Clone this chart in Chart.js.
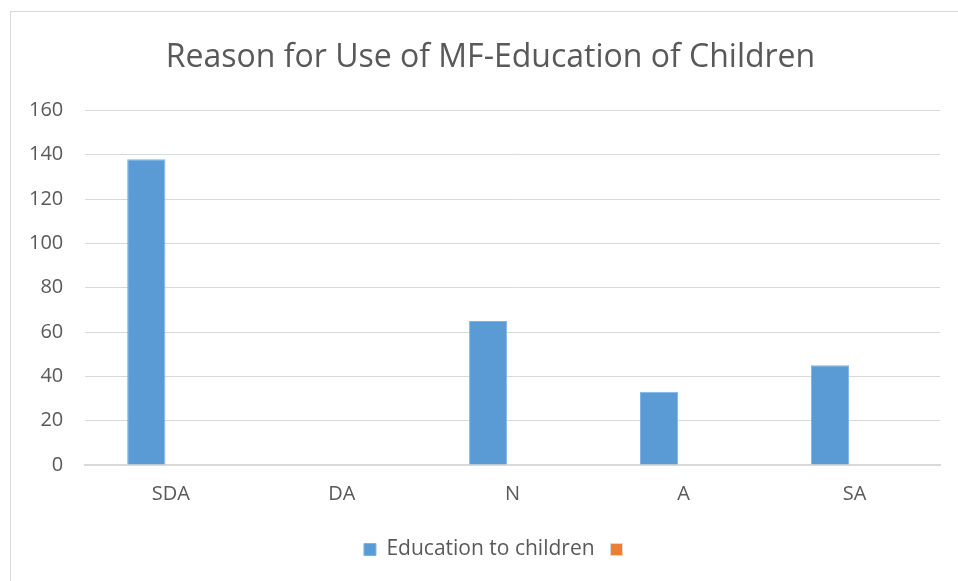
<!DOCTYPE html>
<html><head><meta charset="utf-8">
<script src="https://cdn.jsdelivr.net/npm/chart.js@4/dist/chart.umd.min.js"></script>
<style>
html,body{margin:0;padding:0;background:#fff;}
#frame{position:absolute;left:10px;top:11px;width:960px;height:580px;border:1px solid #d9d9d9;box-sizing:border-box;}
#wrap{position:absolute;left:0;top:0;width:958px;height:581px;}
</style></head>
<body>
<div id="frame"></div>
<div id="wrap"><canvas id="c" width="958" height="581"></canvas></div>
<script>
const categories = ["SDA","DA","N","A","SA"];
const educationValues = [138, 0, 65, 33, 45];
const secondValues = [0, 0, 0, 0, 0];
const yTicks = [0,20,40,60,80,100,120,140,160];
const titleText = "Reason for Use of MF-Education of Children";
const seriesNames = ["Education to children", ""];

const FONT = "'Open Sans', 'Liberation Sans', sans-serif";
const shiftPlugin = {
  id:'shift',
  afterLayout(chart){
    if (chart.titleBlock) chart.titleBlock.left += 34;
    if (chart.legend) chart.legend.left += 50;
  }
};
new Chart(document.getElementById('c'), {
  type: 'bar',
  plugins:[shiftPlugin],
  data: {
    labels: categories,
    datasets: [
      {label: seriesNames[0], data: educationValues, backgroundColor:'#5B9BD5', borderColor:'#7fb2e2', borderWidth:1, barPercentage:0.78, categoryPercentage:0.573},
      {label: seriesNames[1], data: secondValues, backgroundColor:'#ED7D31', borderColor:'#e3d6cf', borderWidth:1, barPercentage:0.78, categoryPercentage:0.573}
    ]
  },
  options: {
    responsive:false, animation:false,
    layout:{padding:{left:7, right:18, top:39, bottom:11}},
    plugins:{
      title:{display:true, text:titleText, color:'#595959', font:{family:FONT, size:32, weight:'normal'}, padding:{top:0,bottom:33}},
      legend:{position:'bottom', labels:{color:'#595959', font:{family:FONT, size:21}, boxWidth:12, boxHeight:12, padding:16}},
      tooltip:{enabled:false}
    },
    scales:{
      x:{grid:{display:false, drawTicks:false}, border:{color:'#d9d9d9', width:2}, ticks:{color:'#595959', font:{family:FONT, size:20}, padding:17}},
      y:{min:0, max:160, afterBuildTicks:(ax)=>{ax.ticks = yTicks.map(v=>({value:v}));}, grid:{color:'#d9d9d9', drawTicks:false, lineWidth:1}, border:{display:false}, ticks:{color:'#595959', font:{family:FONT, size:20}, padding:22}}
    }
  }
});
</script>
</body></html>
